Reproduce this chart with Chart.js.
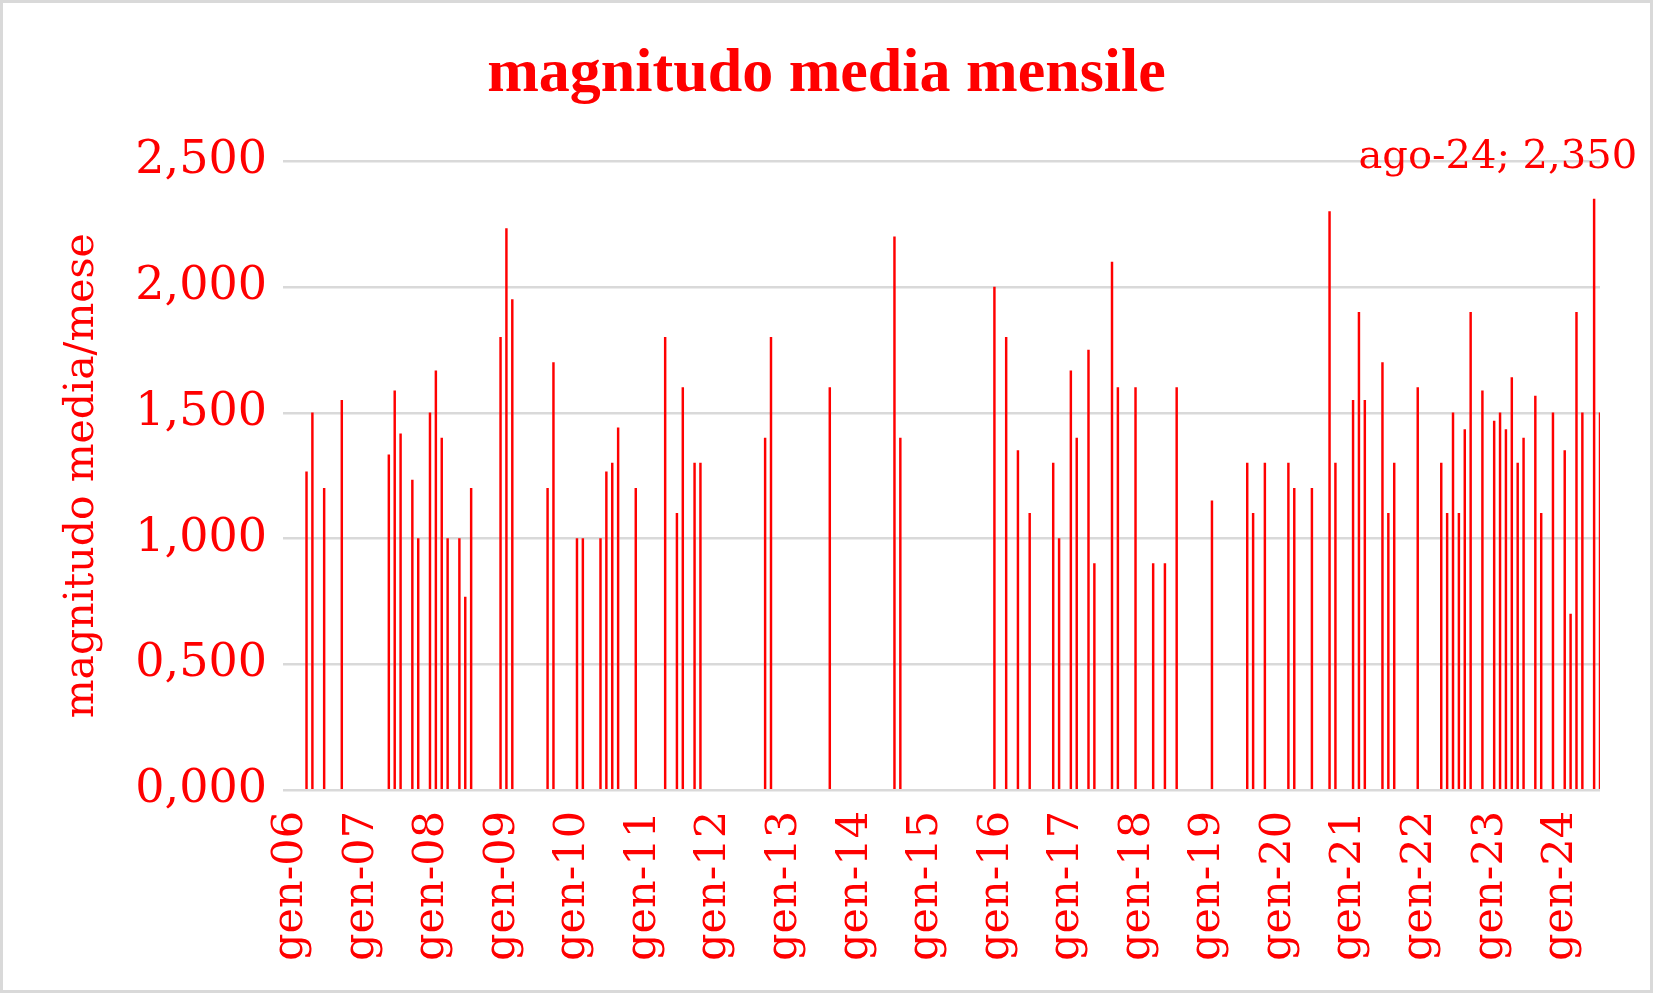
<!DOCTYPE html>
<html>
<head>
<meta charset="utf-8">
<title>magnitudo media mensile</title>
<script src="https://cdn.jsdelivr.net/npm/chart.js@4.4.1/dist/chart.umd.min.js"></script>
<style>
    html, body { margin: 0; padding: 0; background: #ffffff; }
    #wrap { width: 1653px; height: 993px; position: relative; }
</style>
</head>
<body>
<div id="wrap"><canvas id="myChart"></canvas></div>
<script>
// categories: one bar slot per month, gen-06 .. set-24
const monthNames = ['gen', 'feb', 'mar', 'apr', 'mag', 'giu', 'lug', 'ago', 'set', 'ott', 'nov', 'dic'];
const yearLabels = ['06', '07', '08', '09', '10', '11', '12', '13', '14', '15',
    '16', '17', '18', '19', '20', '21', '22', '23', '24'];
const lastMonth = 'set-24';

// months that had events, and their mean magnitude
const eventMonths = [
    'mag-06', 'giu-06', 'ago-06', 'nov-06',
    'lug-07', 'ago-07', 'set-07', 'nov-07', 'dic-07',
    'feb-08', 'mar-08', 'apr-08', 'mag-08', 'lug-08', 'ago-08', 'set-08',
    'feb-09', 'mar-09', 'apr-09', 'ott-09', 'nov-09',
    'mar-10', 'apr-10', 'lug-10', 'ago-10', 'set-10', 'ott-10',
    'gen-11', 'giu-11', 'ago-11', 'set-11', 'nov-11', 'dic-11',
    'nov-12', 'dic-12',
    'ott-13',
    'set-14', 'ott-14',
    'feb-16', 'apr-16', 'giu-16', 'ago-16', 'dic-16',
    'gen-17', 'mar-17', 'apr-17', 'giu-17', 'lug-17', 'ott-17', 'nov-17',
    'feb-18', 'mag-18', 'lug-18', 'set-18',
    'mar-19', 'set-19', 'ott-19', 'dic-19',
    'apr-20', 'mag-20', 'ago-20', 'nov-20', 'dic-20',
    'mar-21', 'apr-21', 'mag-21', 'ago-21', 'set-21', 'ott-21',
    'feb-22', 'giu-22', 'lug-22', 'ago-22', 'set-22', 'ott-22', 'nov-22',
    'gen-23', 'mar-23', 'apr-23', 'mag-23', 'giu-23', 'lug-23', 'ago-23', 'ott-23', 'nov-23',
    'gen-24', 'mar-24', 'apr-24', 'mag-24', 'giu-24', 'ago-24', 'set-24'
];
const monthlyMagnitude = [
    1.265, 1.5, 1.2, 1.55,
    1.333, 1.588, 1.417, 1.233, 1.0,
    1.5, 1.667, 1.4, 1.0, 1.0, 0.767, 1.2,
    1.8, 2.233, 1.95, 1.2, 1.7,
    1.0, 1.0, 1.0, 1.265, 1.3, 1.44,
    1.2, 1.8, 1.1, 1.6, 1.3, 1.3,
    1.4, 1.8,
    1.6,
    2.2, 1.4,
    2.0, 1.8, 1.35, 1.1, 1.3,
    1.0, 1.667, 1.4, 1.75, 0.9, 2.1, 1.6,
    1.6, 0.9, 0.9, 1.6,
    1.15, 1.3, 1.1, 1.3,
    1.3, 1.2, 1.2, 2.3, 1.3,
    1.55, 1.9, 1.55, 1.7, 1.1, 1.3,
    1.6, 1.3, 1.1, 1.5, 1.1, 1.433, 1.9,
    1.588, 1.467, 1.5, 1.433, 1.64, 1.3, 1.4, 1.567, 1.1,
    1.5, 1.35, 0.7, 1.9, 1.5, 2.35, 1.5
];

const highlightMonth = 'ago-24';
const yMin = 0;
const yMax = 2.5;
const yStep = 0.5;

let months = [];
yearLabels.forEach(function (yy) {
    monthNames.forEach(function (mm) {
        months.push(mm + '-' + yy);
    });
});
months = months.slice(0, months.indexOf(lastMonth) + 1);

let series = months.map(function (m) {
    let i = eventMonths.indexOf(m);
    return i >= 0 ? monthlyMagnitude[i] : null;
});

function formatValue(v) {
    return Number(v).toFixed(3).replace('.', ',');
}

const red = '#ff0000';
const gridGray = '#d9d9d9';

const frame = {
    id: 'frame',
    beforeDraw: function (chart) {
        const c = chart.ctx;
        c.save();
        c.fillStyle = '#ffffff';
        c.fillRect(0, 0, chart.width, chart.height);
        c.restore();
    },
    afterDraw: function (chart) {
        const c = chart.ctx;
        c.save();
        c.strokeStyle = gridGray;
        c.lineWidth = 3;
        c.strokeRect(1.5, 1.5, chart.width - 3, chart.height - 3);
        c.restore();
    }
};

const pointLabel = {
    id: 'pointLabel',
    afterDatasetsDraw: function (chart) {
        const idx = months.indexOf(highlightMonth);
        const bar = chart.getDatasetMeta(0).data[idx];
        if (!bar) return;
        const c = chart.ctx;
        c.save();
        c.font = '40px "DejaVu Serif"';
        c.fillStyle = red;
        c.textAlign = 'right';
        c.textBaseline = 'middle';
        c.fillText(highlightMonth + '; ' + formatValue(series[idx]), bar.x + 43, bar.y - 42);
        c.restore();
    }
};

const ctx = document.getElementById('myChart');

let cfg = {
    type: 'bar',
    data: {
        labels: months,
        datasets: [{
            label: 'magnitudo media mensile',
            data: series,
            backgroundColor: red,
            borderWidth: 0,
            barThickness: 1.8
        }]
    },
    options: {
        responsive: true,
        maintainAspectRatio: false,
        animation: false,
        events: [],
        layout: { padding: 0 },
        plugins: {
            legend: { display: false },
            tooltip: { enabled: false },
            title: {
                display: true,
                text: 'magnitudo media mensile',
                color: red,
                font: { family: 'Liberation Serif', size: 62, weight: 'bold' },
                padding: { top: 38, bottom: 49 }
            }
        },
        scales: {
            x: {
                offset: false,
                grid: { display: false, drawTicks: false },
                border: { display: false },
                ticks: {
                    autoSkip: false,
                    minRotation: 90,
                    maxRotation: 90,
                    padding: 21,
                    labelOffset: 8,
                    color: red,
                    font: { family: 'DejaVu Serif', size: 43 },
                    callback: function (value, index) {
                        return index % 12 === 0 ? this.getLabelForValue(value) : null;
                    }
                },
                afterFit: function (scale) {
                    scale.height = 203;
                    scale.paddingRight = 53;
                }
            },
            y: {
                min: yMin,
                max: yMax,
                grid: { color: gridGray, lineWidth: 2.5, drawTicks: false },
                border: { display: false },
                ticks: {
                    stepSize: yStep,
                    padding: 16,
                    color: red,
                    font: { family: 'DejaVu Serif', size: 46 },
                    callback: function (value) {
                        return formatValue(value);
                    }
                },
                title: {
                    display: true,
                    text: 'magnitudo media/mese',
                    color: red,
                    font: { family: 'DejaVu Serif', size: 41 },
                    padding: { top: 58, bottom: 0 }
                },
                afterFit: function (scale) {
                    scale.width = 283;
                }
            }
        }
    },
    plugins: [frame, pointLabel]
};

let myChart = new Chart(ctx, cfg);
</script>
</body>
</html>
